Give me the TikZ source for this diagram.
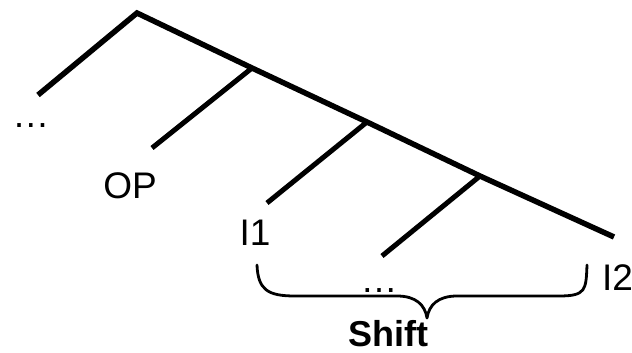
\documentclass[tikz,border=0pt]{standalone}
\usepackage{fontspec}
\setmainfont{Liberation Sans}
\begin{document}
\begin{tikzpicture}[x=1pt,y=-1pt,
  trunk/.style={line width=5.5pt},
  twig/.style={line width=5pt},
  bracestyle/.style={line width=2.8pt,line cap=round,line join=round},
  lbl/.style={inner sep=0pt,anchor=base,font=\fontsize{37}{44}\selectfont}]
\useasboundingbox (0,0) rectangle (632,353);
% tree
\coordinate (apex) at (137,13);
\coordinate (j1) at (252,68);
\coordinate (j2) at (367,122);
\coordinate (j3) at (480,176);
\coordinate (tail) at (614,237);
\coordinate (e0) at (38,95);
\coordinate (e1) at (152,148);
\coordinate (e2) at (267,203);
\coordinate (e3) at (382,256);
\draw[trunk] (e0) -- (apex) -- (j1) -- (j2) -- (j3) -- (tail);
\draw[twig] (j1) -- (e1);
\draw[twig] (j2) -- (e2);
\draw[twig] (j3) -- (e3);
% labels
\node[lbl] (dotsL) at (31,128) {…};
\node[lbl] (op) at (130,198) {OP};
\node[lbl] (ione) at (255,245) {I1};
\node[lbl,anchor=base west] (itwo) at (602,290) {I2};
\node[lbl] (dotsM) at (379,292) {…};
\node[lbl,text depth=0pt,font=\fontsize{36}{44}\selectfont\bfseries] (shift) at (388,346) {Shift};
% brace
\coordinate (bl) at (257,265);
\coordinate (br) at (587,265);
\coordinate (btip) at (427,318);
\draw[bracestyle] (bl) .. controls (258,290) and (268,296) .. (295,296) -- (397,296)
  .. controls (416,296) and (425,305) .. (btip)
  .. controls (429,305) and (438,296) .. (457,296) -- (559,296)
  .. controls (586,296) and (586,290) .. (br);
\end{tikzpicture}
\end{document}
